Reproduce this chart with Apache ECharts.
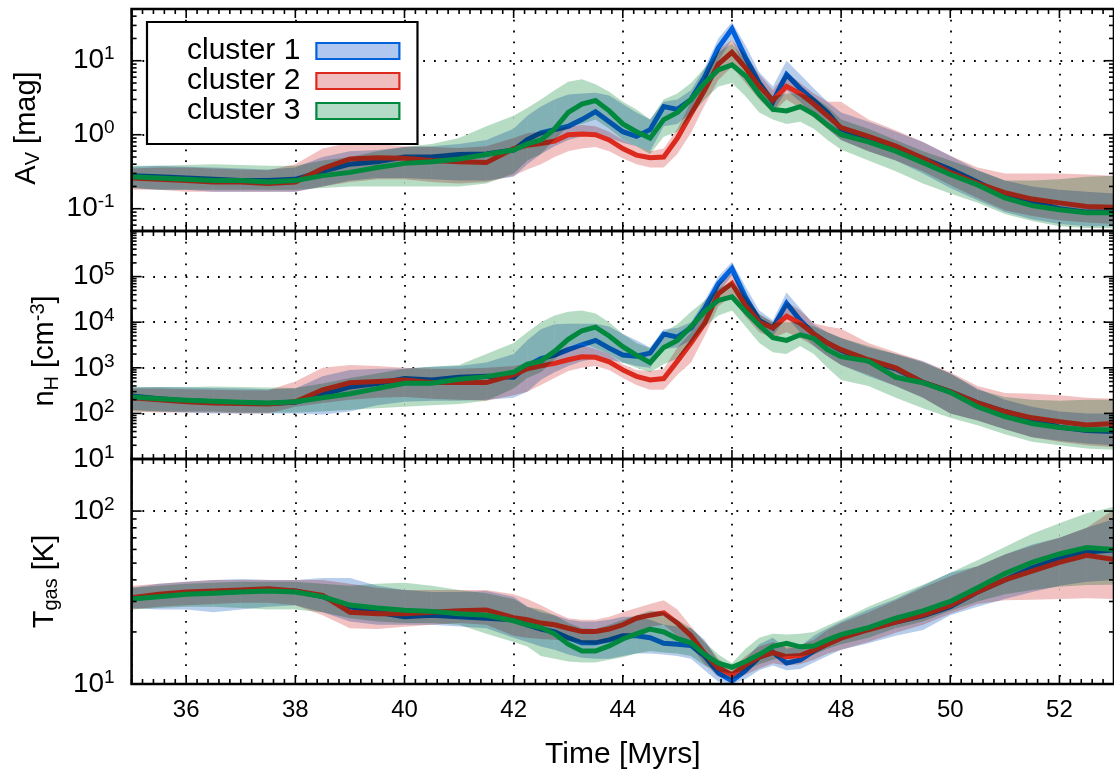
<!DOCTYPE html>
<html><head><meta charset="utf-8">
<script src="https://cdn.jsdelivr.net/npm/echarts@6/dist/echarts.min.js"></script>
<style>html,body{margin:0;padding:0;background:#fff}#c{width:1114px;height:778px}</style>
</head><body><div id="c"></div>
<script>
const FONT = "'Liberation Sans', Arial, Helvetica, sans-serif";
const clusterNames = ['cluster 1', 'cluster 2', 'cluster 3'];
const xAxisName = 'Time [Myrs]';
const times = [35,35.5,36,36.5,37,37.5,38,38.5,39,39.5,40,40.5,41,41.5,42,42.25,42.5,42.75,43,43.25,43.5,43.75,44,44.25,44.5,44.75,45,45.25,45.5,45.75,46,46.25,46.5,46.75,47,47.25,47.5,47.75,48,48.5,49,49.5,50,50.5,51,51.5,52,52.5,53];

// ---- A_V [mag] ----
const av1 = [0.28,0.27,0.26,0.25,0.24,0.24,0.25,0.32,0.40,0.43,0.50,0.50,0.54,0.55,0.62, 0.86,1.06,1.17,1.3,1.6,2.05,1.5,1.1,0.95,1.17,2.4,2.2,3.0,6,15,27,11,5,2.8,6.5,4.2,2.9,2.0,1.2, 0.85,0.62,0.48,0.34,0.23,0.15,0.125,0.10,0.09,0.09];
const av1Hi = [0.37,0.38,0.37,0.36,0.35,0.34,0.36,0.5,0.6,0.62,0.68,0.7,0.75,0.85,1.2, 1.8,2.4,3.0,3.5,3.6,3.7,3.4,2.6,2.0,1.6,2.8,3.0,4.0,8,20,33,16,7,4.5,10,6.5,4.2,2.8,2.0, 1.5,1.1,0.8,0.52,0.33,0.24,0.2,0.18,0.17,0.16];
const av1Lo = [0.19,0.18,0.18,0.17,0.17,0.17,0.17,0.2,0.24,0.26,0.26,0.25,0.24,0.24,0.27, 0.4,0.55,0.7,0.85,0.95,1.0,0.9,0.78,0.7,0.6,1.3,1.4,2.0,4.0,10,19,7,3.5,2.0,4.0,2.8,1.8,1.2,0.85, 0.6,0.45,0.3,0.19,0.13,0.09,0.072,0.062,0.058,0.058];
const av2 = [0.26,0.25,0.24,0.23,0.23,0.22,0.23,0.35,0.47,0.49,0.48,0.45,0.43,0.42,0.65, 0.72,0.76,0.82,1.0,1.02,1.0,0.85,0.65,0.53,0.49,0.5,0.9,1.9,4,9,13,8,4.5,2.9,4.5,3.6,2.6,1.8,1.25, 0.95,0.7,0.48,0.31,0.22,0.165,0.135,0.12,0.107,0.105];
const av2Hi = [0.35,0.36,0.36,0.35,0.34,0.33,0.4,0.65,0.78,0.75,0.7,0.68,0.66,0.7,0.9, 1.05,1.1,1.15,1.3,1.35,1.3,1.1,0.85,0.7,0.6,0.65,1.2,2.8,6,14,19,12,6.5,4.0,7,5.0,3.6,2.8,2.8, 1.6,1.15,0.8,0.52,0.36,0.3,0.3,0.3,0.29,0.28];
const av2Lo = [0.18,0.18,0.17,0.17,0.17,0.17,0.17,0.2,0.23,0.25,0.25,0.23,0.22,0.23,0.28, 0.34,0.4,0.5,0.6,0.65,0.68,0.6,0.48,0.4,0.36,0.36,0.55,1.06,2.5,5.5,8.3,5,3.0,2.0,3.0,2.3,1.7,1.2,0.85, 0.6,0.45,0.32,0.21,0.14,0.095,0.08,0.07,0.065,0.062];
const av3 = [0.27,0.26,0.25,0.24,0.24,0.23,0.24,0.28,0.31,0.36,0.41,0.43,0.47,0.54,0.62, 0.75,0.85,1.2,2.0,2.6,2.9,2.1,1.4,1.1,0.9,1.6,2.0,3.0,5,7.5,8.8,6.2,3.5,2.2,2.1,2.4,1.9,1.35,1.0, 0.8,0.6,0.42,0.29,0.21,0.14,0.11,0.097,0.088,0.088];
const av3Hi = [0.38,0.38,0.39,0.4,0.39,0.38,0.38,0.45,0.5,0.6,0.68,0.75,0.9,1.3,1.8, 2.3,3.0,4.0,5.2,5.6,4.8,3.8,2.8,2.2,1.6,3.0,3.6,5.0,8,13,17,10,5.5,3.3,3.6,3.6,3.2,2.4,1.6, 1.2,0.85,0.6,0.45,0.33,0.24,0.24,0.25,0.27,0.28];
const av3Lo = [0.19,0.18,0.18,0.18,0.18,0.18,0.18,0.19,0.2,0.2,0.2,0.2,0.2,0.22,0.3, 0.45,0.55,0.86,1.3,1.4,1.6,1.2,0.86,0.7,0.55,0.94,1.1,1.8,3.0,4.5,5,3.3,2.0,1.6,1.4,1.5,1.2,0.85,0.63, 0.45,0.32,0.22,0.16,0.12,0.085,0.068,0.058,0.055,0.055];

// ---- n_H [cm^-3] ----
const nh1 = [240,210,190,180,170,165,175,260,380,450,580,540,620,650,620, 1100,1600,1900,2500,3200,4000,2700,1900,1800,2100,5500,4700,7500,20000,70000,150000,35000,11000,7500,26000,11000,5500,3500,2400, 1400,950,480,300,170,110,75,50,42,40];
const nh1Hi = [370,380,370,360,350,340,350,650,900,950,970,1050,1100,1300,2000, 4000,7000,9000,9300,9300,9300,8000,5500,4000,2800,7000,7500,10000,30000,100000,210000,60000,18000,11000,45000,20000,9000,6000,4500, 2800,2000,1400,750,350,200,140,110,100,100];
const nh1Lo = [120,110,105,100,100,100,100,95,110,150,180,190,190,200,220, 300,550,800,1100,1400,1600,1500,1300,1100,1000,2600,2800,4000,12000,45000,107000,20000,7000,5000,13000,6000,3000,1800,1150, 650,400,220,100,70,45,30,25,22,20];
const nh2 = [220,200,180,170,165,160,180,330,470,500,540,475,475,475,700, 950,1100,1250,1500,1750,1700,1350,900,650,540,580,1400,3500,9500,42000,71000,23000,10000,7500,13500,9500,5500,3500,2500, 1500,1000,480,300,170,110,80,66,56,60];
const nh2Hi = [350,350,340,330,320,320,500,1000,1150,1100,1000,950,950,1000,1100, 1250,1350,2000,3000,3200,2600,2000,1200,900,850,950,2800,6000,18000,70000,117000,40000,15000,10000,28000,18000,9500,8000,7200, 3500,2200,1400,800,400,280,270,250,220,210];
const nh2Lo = [110,105,105,105,100,100,140,170,200,220,230,210,200,190,250, 300,420,600,850,1000,1100,900,600,420,330,330,700,1300,5000,22000,39000,13000,6000,4500,6000,4500,3000,1800,1150, 700,400,220,100,70,45,30,24,20,18];
const nh3 = [230,210,195,185,175,170,180,220,270,350,460,460,560,640,800, 1200,1400,2300,4200,6500,7800,5000,2900,1900,1300,2800,4000,8000,17000,30000,36000,17000,8500,4600,4000,5300,4400,2500,1750, 1400,620,470,290,140,85,60,49,44,44];
const nh3Hi = [380,380,380,390,380,370,360,450,600,750,950,1050,1150,2000,3500, 6000,10000,14000,17000,18000,15500,10000,5500,3500,2700,6000,9000,17000,30000,55000,76000,35000,15000,10000,10000,10000,8000,6000,4500, 3000,2000,1300,750,330,230,200,190,200,200];
const nh3Lo = [110,110,110,110,105,105,105,110,120,130,140,150,160,190,350, 600,800,1500,3000,3500,2700,2000,1300,1000,800,1200,1600,3500,8000,14000,18000,8000,3500,2200,2000,3000,2000,1000,540, 400,220,130,80,55,35,24,20,17,16];

// ---- T_gas [K] ----
const tg1 = [31,32.5,33.5,34,34.5,35,34.5,32,28,26,24.5,25,24.5,24,23.5, 22,20.8,20,18.5,17.3,17.3,18,19,19,18.5,17.2,17,16.7,14.5,11.6,10.4,12,14.3,15.3,13.2,13.8,15.5,17,18.6, 20.8,22.8,24.8,28,34,40,47,53,58,59.6];
const tg1Hi = [36,38,39,40,40.5,40,40,41,41,37,35,34,34,34.5,32, 28,26,25,23.5,23,23,23.5,24.5,24.5,23.5,22,21.5,21,18,13.5,11.3,14,17,18.5,16,16.5,19,21,23, 27,31,37,44,48,56,64,70,80,90];
const tg1Lo = [27.5,27,27,26,27,28,28.5,26,23,22,22,22,21.5,21,18.5, 17.5,16.5,15.8,14.8,14.2,14,14,14.5,15,15,14.8,14.5,14,12,10.3,10,10.7,12,12.8,12,12.2,13.3,14.5,15.8, 17.2,19,20.5,25,28,31,34,37,39,40];
const tg2 = [31.5,33,34,34.5,35,35.5,34.5,32.5,26,25.5,25.5,26,26.5,26.8,24.2, 23.5,22.5,22,21,20.1,20.1,20.8,22,24,25,25.8,22.5,19,15,12.4,11.3,12.9,14.3,15.2,14.4,14.6,15.7,17,18.4, 20.6,22.8,25,28.5,34,40,45,50.5,55.5,52.5];
const tg2Hi = [37,38,39,40,40,40,40,40,38,36,35,35,35,35,33, 31,28.5,26,24,23.5,23.5,24.5,26,27.5,29,30.5,27,21.5,17.5,14,12.3,14.5,16.5,17.5,16.5,16.8,18,20.5,22.5, 26,30.5,36,42,48,56,63,70,80,102];
const tg2Lo = [27,28,28.5,29,29.5,29.5,28.5,25,21,20.8,21.4,22,22.5,22,19, 18.5,18.2,18,17.8,17.3,17,17.5,18.5,20,21.5,22,19,16.5,13,11,10.6,11.3,12.3,13.2,12.8,13,13.8,15,15.8, 17.5,19.8,22,25.5,29,30.5,30.7,31,31.3,31];
const tg3 = [31,32,33,33.5,34,34.5,34,32,28.6,27.5,26.7,26.3,25.5,25,23.2, 22,21.2,19.5,17,15.5,15.5,16.6,18.2,19.5,20.8,20,18.3,17.3,14.8,13.2,12.5,13.5,14.8,16.5,17.2,16.4,16.6,18,19.3, 21.2,24,26.5,30,36,43.5,50.5,56.5,61.5,60];
const tg3Hi = [36,37,38,38.5,39,39,39,38,37,38,38.5,37,35,33.5,31, 28,27,25,22.5,21,20.8,22,23.5,25,26.5,26,23.5,21,17.5,14.8,13.2,16,18.5,19.5,19.3,19.5,20,21.8,23.5, 28,32.5,37.5,44,52,62,74,85,97,106];
const tg3Lo = [27,27.5,28,28,27.5,27,27,26,24,23,22.5,22.5,22,19.5,17.5, 16.5,14.5,14,13.5,13.3,13.3,13.8,14.3,15,15.5,15.2,15,14.5,12.8,11.8,11.5,12,13,13.8,14.5,14.5,14.8,16,17, 18.5,21,23,26.5,30,33,35,36.5,37.4,37.5];

const panels = [
  {min: 0.05, max: 50, mean: [av1, av2, av3], hi: [av1Hi, av2Hi, av3Hi], lo: [av1Lo, av2Lo, av3Lo],
   name: '{n|A}{sub|V}{n| [mag]}', nameGap: 88, namePad: [0, 16, 0, 0], top: 9, height: 222},
  {min: 10, max: 1e6, mean: [nh1, nh2, nh3], hi: [nh1Hi, nh2Hi, nh3Hi], lo: [nh1Lo, nh2Lo, nh3Lo],
   name: '{n|n}{sub|H}{n| [cm}{sup|-3}{n|]}', nameGap: 67, namePad: [0, 12, 0, 0], top: 231, height: 228},
  {min: 10, max: 200, mean: [tg1, tg2, tg3], hi: [tg1Hi, tg2Hi, tg3Hi], lo: [tg1Lo, tg2Lo, tg3Lo],
   name: '{n|T}{sub|gas}{n| [K]}', nameGap: 70, namePad: [0, 20, 0, 0], top: 459, height: 225}
];

const lineColors = ['#0062DC', '#DC2B1E', '#00893E'];
const bandColors = ['#b6cdec', '#f2c2c2', '#b6dcc4'];
const legendFills = ['#b0c8f0', '#f0bebe', '#b4dac8'];

const GRID_LEFT = 131.6, GRID_WIDTH = 984.1;
const dotted = {color: '#000', width: 1.8, type: [1.8, 9]};

const chart = echarts.init(document.getElementById('c'), null, {renderer: 'canvas'});

function bandSeries(pi, lo, hi, fill, blend, z) {
  const s = {
    type: 'custom', xAxisIndex: pi, yAxisIndex: pi, silent: true, clip: true, z: z,
    data: times.map((t, i) => [t, lo[i], hi[i]]),
    encode: {x: 0, y: [1, 2]},
    renderItem: (params, api) => {
      const i = params.dataIndexInside;
      if (i >= times.length - 1) return null;
      const a = api.coord([api.value(0, i), api.value(1, i)]);
      const b = api.coord([api.value(0, i + 1), api.value(1, i + 1)]);
      const d = api.coord([api.value(0, i + 1), api.value(2, i + 1)]);
      const e = api.coord([api.value(0, i), api.value(2, i)]);
      return {type: 'polygon', shape: {points: [a, b, d, e]}, style: {fill: fill}};
    }
  };
  if (blend) s.blendMode = blend;
  return s;
}

const grids = [], xAxes = [], yAxes = [], series = [];
panels.forEach((p, pi) => {
  grids.push({left: GRID_LEFT, width: GRID_WIDTH, top: p.top, height: p.height, containLabel: false});
  xAxes.push({
    type: 'value', gridIndex: pi, min: 35, max: 53, splitNumber: 9,
    axisLine: {show: false}, axisTick: {show: false},
    splitLine: {show: true, lineStyle: dotted},
    axisLabel: {show: pi === 2, fontFamily: FONT, fontSize: 24, color: '#000', margin: 14,
      showMinLabel: false, showMaxLabel: false,
      formatter: v => (Math.abs(v / 2 - Math.round(v / 2)) < 1e-9 ? String(v) : '')},
    name: pi === 2 ? xAxisName : '', nameLocation: 'middle', nameGap: 56,
    nameTextStyle: {fontFamily: FONT, fontSize: 30, color: '#000'}
  });
  yAxes.push({
    type: 'log', logBase: 10, gridIndex: pi, min: p.min, max: p.max,
    axisLine: {show: false}, axisTick: {show: false},
    splitLine: {show: true, lineStyle: dotted},
    axisLabel: {
      margin: 17, showMinLabel: true, showMaxLabel: false,
      formatter: v => {
        const l = Math.log10(v), e = Math.round(l);
        if (Math.abs(l - e) > 1e-6) return '';
        return '{b|10}{s|' + e + '}';
      },
      rich: {
        b: {fontFamily: FONT, fontSize: 28, color: '#000', lineHeight: 32},
        s: {fontFamily: FONT, fontSize: 19, color: '#000', verticalAlign: 'top', lineHeight: 18}
      }
    },
    name: p.name, nameLocation: 'middle', nameRotate: 90, nameGap: p.nameGap,
    nameTextStyle: {
      padding: p.namePad,
      rich: {
        n: {fontFamily: FONT, fontSize: 29, color: '#000', lineHeight: 34},
        sub: {fontFamily: FONT, fontSize: 20, color: '#000', verticalAlign: 'bottom', lineHeight: 16},
        sup: {fontFamily: FONT, fontSize: 20, color: '#000', verticalAlign: 'top', lineHeight: 16}
      }
    }
  });
  // opaque underlay so the grid dots stay hidden beneath the bands
  for (let c = 0; c < 3; c++) series.push(bandSeries(pi, p.lo[c], p.hi[c], '#ffffff', null, 1));
  for (let c = 0; c < 3; c++) {
    series.push(bandSeries(pi, p.lo[c], p.hi[c], bandColors[c], 'multiply', 2 + 2 * c));
    series.push({
      type: 'line', name: clusterNames[c], xAxisIndex: pi, yAxisIndex: pi, z: 3 + 2 * c,
      data: times.map((t, i) => [t, p.mean[c][i]]),
      showSymbol: false, symbol: 'none', silent: true,
      lineStyle: {color: lineColors[c], width: 5, join: 'miter'},
      itemStyle: {color: lineColors[c]}
    });
  }
  // frame + inward tick marks, positioned through the axis scales
  series.push({
    type: 'custom', xAxisIndex: pi, yAxisIndex: pi, silent: true, clip: false, z: 12,
    data: [[35, p.min]],
    renderItem: (params, api) => {
      const cs = params.coordSys;
      const ch = [];
      const ln = (x1, y1, x2, y2) => ch.push({type: 'line', shape: {x1, y1, x2, y2}, style: {stroke: '#000', lineWidth: 1.6}});
      for (let k = 0; k <= 90; k++) {
        const t = 35 + k * 0.2;
        const x = api.coord([t, p.min])[0];
        const len = ((k - 5) % 10 === 0) ? 9 : 5;
        ln(x, cs.y, x, cs.y + len);
        ln(x, cs.y + cs.height, x, cs.y + cs.height - len);
      }
      const d0 = Math.floor(Math.log10(p.min)), d1 = Math.ceil(Math.log10(p.max));
      for (let d = d0; d <= d1; d++) {
        for (let m = 1; m <= 9; m++) {
          const v = m * Math.pow(10, d);
          if (v < p.min * 0.999 || v > p.max * 1.001) continue;
          const y = api.coord([35, v])[1];
          const len = m === 1 ? 10 : 5;
          ln(cs.x, y, cs.x + len, y);
          ln(cs.x + cs.width, y, cs.x + cs.width - len, y);
        }
      }
      ch.push({type: 'rect', shape: {x: cs.x, y: cs.y, width: cs.width, height: cs.height},
        style: {fill: 'none', stroke: '#000', lineWidth: 2.6}});
      return {type: 'group', children: ch};
    }
  });
});

chart.setOption({
  animation: false,
  backgroundColor: '#fff',
  grid: grids, xAxis: xAxes, yAxis: yAxes, series: series,
  legend: {
    left: 147, top: 22, orient: 'vertical', align: 'right', icon: 'rect', z: 20,
    itemWidth: 83, itemHeight: 16, itemGap: 0, selectedMode: false,
    padding: [14, 17, 18, 40],
    backgroundColor: '#fff', borderColor: '#000', borderWidth: 2.2,
    textStyle: {fontFamily: FONT, fontSize: 30, color: '#000', lineHeight: 30, padding: [0, 11, 0, 0]},
    data: clusterNames.map((n, i) => ({name: n, icon: 'rect',
      itemStyle: {color: legendFills[i], borderColor: lineColors[i], borderWidth: 2.2}}))
  }
});
</script></body></html>
